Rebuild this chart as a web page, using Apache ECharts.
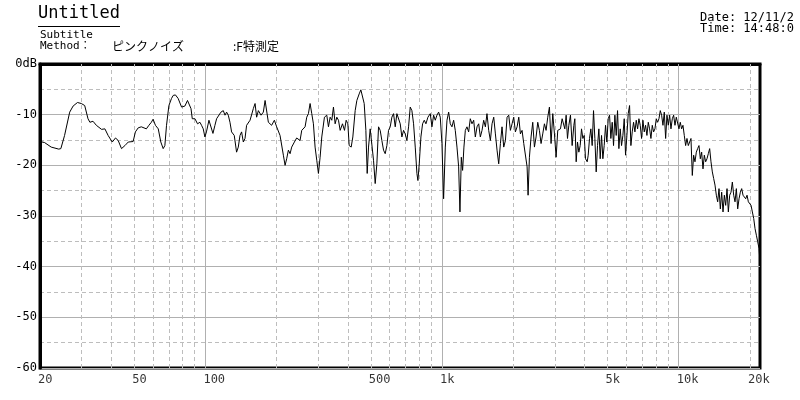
<!DOCTYPE html>
<html>
<head>
<meta charset="utf-8">
<script src="https://cdn.jsdelivr.net/npm/echarts@6/dist/echarts.min.js"></script>
<style>html,body{margin:0;padding:0;background:#fff}#c{width:800px;height:400px}</style>
</head>
<body>
<div id="c"></div>
<script>
// ---- data ----
const freqLow = [20,20.9,22.3,24.0,24.5,25.4,26.7,27.6,28.8,29.9,30.9,31.9,32.5,33.5,34.6,36.4,37.6,38.8,40.4,41.7,42.8,44.2,45.7,47.2,49.5,50.6,52.0,53.6,56.3,57.7,59.1,60.1,61.5,63.2,64.8,66.3,67.4,68.5,70.1,71.9,73.1,74.7,76.7,79.3,81.9,84.0,85.2,86.9,88.0,90.3,92.6,94.8,96.3,97.9,99.5,101,103.5,105.5,107.6,109.7,111.5,113.3,116.3,119.0,121.0,122.9,124.9,127.0,129.0,132.4,135.4,137.7,140.0,142.2,144.6,147.0,149.3,154.4,159.4,162.1,164.6,167.4,171.8,175.7,178.7,181.5,184.5,190.5,195.6,200,206.7,213.5,217.1,220.5,224.2,227.9,231.5,237.7,243.0];
const dbLow = [-15.3,-15.5,-16.4,-16.8,-16.7,-14.1,-9.5,-8.3,-7.6,-7.8,-8.2,-10.8,-11.5,-11.3,-12.1,-12.9,-12.8,-14.1,-15.4,-14.6,-15.1,-16.7,-16.1,-15.4,-15.3,-13.4,-12.6,-12.4,-12.8,-12.1,-11.5,-10.9,-12.1,-12.8,-15.4,-16.7,-16.1,-12.1,-8.2,-6.8,-6.2,-6.1,-6.8,-8.5,-8.3,-7.2,-7.2,-8.8,-10.8,-10.8,-11.8,-11.5,-12.1,-12.8,-14.4,-13.4,-11.1,-10.8,-13.7,-12.1,-10.8,-11.1,-9.5,-9.2,-10.1,-9.5,-10.1,-11.5,-13.4,-14.1,-17.4,-16.4,-14.1,-13.4,-15.4,-14.7,-12.1,-11.1,-8.8,-7.8,-10.5,-9.2,-10.1,-9.5,-7.2,-7.5,-11.5,-12.1,-11.1,-12.4,-14.1,-18.0,-20.0,-18.7,-17.0,-17.7,-16.4,-15.4,-14.6];

const freqMid = [247,251.1,255.3,259.4,263.7,268.0,272.4,276.9,281.4,286.0,290.7,295.5,300.3,305.2,310.2,318.4,325.7,331.1,336.5,342.0,347.6,353.3,359.1,365.0,371.0,379.5,387.0,393.3,399.8,405.0,413.0,419.7,429.4,436.4,446.4,453.7,461.1,468.7,476.4,482.6,488.9,496.9,505.0,513.3,521.7,530.2,538.9,547.7,556.7,565.8,575.0,584.5,594.0,603.8,613.6,623.7,633.9,644.2,654.8,665.5,676.4,687.5,698.7,710.2,721.8,733.6,745.6,757.8,770.2,782.9,790.5,800.8,814.0,827.3,840.9,854.6,871.5,891.5,906.1,921.0,936.0,951.4,967.0,982.6,998.7,1015,1032,1049,1066,1083,1101,1119,1137,1156,1175,1190,1206,1221,1237,1254,1274,1295,1316,1338,1360,1382,1405,1428,1451,1475,1499,1524,1548,1574,1600,1626,1653,1680,1707,1735,1764,1792,1822,1852,1882,1913,1944,1976,2008,2041,2075,2109,2143,2178,2214,2250,2287,2309,2339,2377,2416,2456,2496,2537,2578,2620,2663,2707,2751,2796,2842,2888,2936,2984,3033,3082];
const dbMid = [-14.4,-15.1,-13.1,-13.4,-12.4,-10.5,-9.8,-7.8,-9.8,-11.8,-16.4,-19.0,-21.6,-18.4,-14.4,-10.5,-10.1,-12.4,-10.5,-11.1,-8.5,-11.8,-10.5,-11.1,-13.1,-11.8,-13.1,-11.1,-11.8,-16.1,-16.4,-14.4,-9.2,-7.2,-5.9,-5.1,-5.2,-7.8,-13.1,-21.6,-16.4,-12.8,-13.1,-19.0,-23.6,-19.7,-12.4,-13.1,-15.1,-17.0,-17.7,-16.1,-13.1,-12.4,-10.5,-9.8,-12.4,-9.8,-10.1,-11.8,-14.4,-13.1,-13.8,-15.1,-12.4,-8.5,-9.2,-11.8,-16.4,-21.6,-23.0,-19.7,-14.4,-11.8,-11.1,-11.8,-10.5,-9.8,-12.4,-10.1,-11.1,-10.1,-9.5,-10.5,-15.7,-26.6,-16.4,-11.1,-9.5,-11.8,-12.4,-11.1,-13.1,-16.4,-20.3,-29.2,-18.4,-21.0,-16.4,-13.1,-12.4,-13.4,-10.8,-11.8,-11.1,-14.4,-12.4,-11.8,-14.4,-13.1,-11.1,-12.4,-9.8,-13.1,-15.1,-11.8,-10.5,-13.8,-17.0,-19.7,-15.7,-12.4,-16.4,-15.1,-10.5,-10.1,-13.1,-11.8,-10.5,-13.4,-12.4,-10.5,-13.8,-13.1,-15.7,-15.4,-20.3,-25.9,-18.4,-14.4,-11.5,-16.4,-14.4,-11.5,-13.1,-15.7,-13.8,-11.8,-13.1,-10.5,-8.5,-15.7,-9.8,-13.8,-18.4,-13.1];

const freqHigh = [3112,3164,3216,3269,3301,3344,3388,3432,3488,3545,3604,3639,3687,3735,3784,3834,3884,3934,3986,4038,4104,4144,4198,4253,4308,4365,4422,4480,4538,4598,4658,4719,4780,4842,4906,4970,5035,5101,5167,5235,5303,5373,5443,5514,5586,5659,5733,5808,5884,5961,6039,6118,6198,6279,6361,6444,6529,6614,6701,6788,6877,6967,7058,7150,7244,7339,7435,7532,7630,7730,7831,7934,8037,8143,8249,8357,8466,8577,8689,8803,8918,9035,9153,9272,9394,9516,9641,9767,9893,10022,10153,10286,10420,10556,10694,10834,10976,11119,11265,11412,11561,11712,11866,12021,12178,12337,12498,12662,12827,12995,13165,13337,13512,13688,13867,14049,14232,14418,14607,14798,14991,15187,15386,15587,15790,15997,16206,16418,16632,16850,17070,17293,17519,17748,17980,18215,18453,18694,18939,19186,19437,19691,19948,20209,20473,20740,21011,21286,21564,21846,22050];
const dbHigh = [-13.4,-12.8,-10.8,-10.5,-12.8,-10.1,-14.7,-12.1,-10.1,-16.1,-12.1,-10.8,-19.3,-15.4,-17.4,-16.1,-12.8,-14.7,-14.1,-18.7,-19.3,-18.0,-14.7,-12.8,-16.1,-9.2,-14.7,-21.3,-16.1,-12.8,-18.7,-14.1,-18.7,-16.1,-12.1,-15.4,-10.8,-10.1,-14.7,-11.5,-16.1,-10.1,-14.1,-9.2,-16.7,-12.8,-16.1,-14.1,-10.8,-18.0,-14.1,-9.8,-8.2,-16.1,-13.4,-11.5,-13.4,-11.1,-12.8,-10.8,-12.1,-14.7,-11.1,-13.4,-12.1,-14.1,-11.5,-12.8,-14.7,-12.1,-13.4,-12.8,-10.8,-11.5,-10.8,-9.2,-10.1,-12.1,-9.5,-14.7,-10.1,-12.1,-10.1,-12.8,-10.8,-10.1,-12.1,-10.5,-10.8,-12.8,-11.5,-12.8,-12.1,-14.1,-16.1,-14.7,-16.1,-15.4,-14.7,-22.0,-18.0,-19.3,-17.4,-16.7,-16.1,-18.7,-17.4,-20.7,-18.0,-19.3,-18.7,-17.7,-16.7,-19.3,-21.3,-22.6,-23.9,-25.9,-27.2,-24.6,-28.6,-25.3,-29.2,-25.9,-27.9,-24.6,-29.2,-25.9,-25.3,-23.3,-25.9,-27.2,-24.6,-28.6,-26.6,-25.3,-24.6,-25.9,-25.6,-26.6,-25.9,-27.2,-27.2,-27.9,-29.2,-30.5,-32.5,-33.8,-35.1,-36.4,-39.1];

const xTickFreqs = [20,50,100,500,1000,5000,10000,20000];
const xTickLabels = ['20','50','100','500','1k','5k','10k','20k'];
const majorGridFreqs = [100,1000,10000];
const minorGridFreqs = [30,40,50,60,70,80,90,200,300,400,500,600,700,800,900,2000,3000,4000,5000,6000,7000,8000,9000,20000];

const titleText = 'Untitled';
const subtitleText = 'Subtitle';
const methodParts = ['Method：', 'ピンクノイズ', ':F特測定'];
const dateText = 'Date: 12/11/2';
const timeText = 'Time: 14:48:0';

// ---- build ----
function pairs(f, d) {
  const n = Math.min(f.length, d.length), out = [];
  for (let i = 0; i < n; i++) out.push([f[i], d[i]]);
  return out;
}
const curve = pairs(freqLow, dbLow).concat(pairs(freqMid, dbMid), pairs(freqHigh, dbHigh));

const MONO = '"DejaVu Sans Mono", "Noto Sans CJK JP", monospace';
const gridLines = minorGridFreqs.map(v => ({xAxis: v, lineStyle: {type: [4, 3], color: '#bdbdbd', width: 1}}))
  .concat(majorGridFreqs.map(v => ({xAxis: v, lineStyle: {type: 'solid', color: '#b0b0b0', width: 1}})));

const chart = echarts.init(document.getElementById('c'), null, {renderer: 'canvas'});
chart.setOption({
  animation: false,
  backgroundColor: '#fff',
  grid: {left: 40, right: 40, top: 64, bottom: 32, show: true, borderColor: '#000', borderWidth: 3, backgroundColor: 'transparent'},
  xAxis: {
    type: 'log', logBase: 10, min: 20, max: 22050,
    axisLine: {show: true, lineStyle: {color: '#000', width: 3}},
    axisTick: {show: false}, axisLabel: {show: false},
    splitLine: {show: false}, minorSplitLine: {show: false}
  },
  yAxis: {
    type: 'value', min: -60, max: 0, interval: 10,
    axisLine: {show: true, lineStyle: {color: '#000', width: 3}},
    axisTick: {show: false},
    axisLabel: {color: '#000', fontFamily: MONO, fontSize: 12, margin: 3,
      formatter: v => v === 0 ? '0dB' : String(v)},
    splitLine: {show: true, lineStyle: {color: '#b0b0b0', width: 1}},
    minorTick: {show: false, splitNumber: 2},
    minorSplitLine: {show: true, lineStyle: {color: '#bdbdbd', width: 1, type: [4, 3]}}
  },
  series: [
    {
      type: 'scatter', z: 1, silent: true, clip: false,
      symbolSize: 1, itemStyle: {color: 'rgba(0,0,0,0)'},
      data: xTickFreqs.map((f, i) => ({value: [f, -60], name: xTickLabels[i]})),
      label: {show: true, position: 'bottom', distance: 5, align: 'left', offset: [-2, 0],
        formatter: p => p.name, color: '#000', fontFamily: MONO, fontSize: 12},
      markLine: {silent: true, symbol: ['none', 'none'], label: {show: false}, animation: false, data: gridLines}
    },
    {
      type: 'line', z: 5, data: curve, showSymbol: false, symbol: 'none',
      lineStyle: {color: '#000', width: 1}, clip: true
    }
  ],
  graphic: [
    {type: 'text', left: 38, top: 5, style: {text: titleText, font: '17px ' + MONO, fill: '#000'}},
    {type: 'line', shape: {x1: 38, y1: 26.5, x2: 120, y2: 26.5}, style: {stroke: '#000', lineWidth: 1}},
    {type: 'text', left: 40, top: 30, style: {text: subtitleText, font: '11px ' + MONO, fill: '#000'}},
    {type: 'text', left: 40, top: 41, style: {text: methodParts[0], font: '11px ' + MONO, fill: '#000'}},
    {type: 'text', left: 112, top: 40, style: {text: methodParts[1], font: '12px "Noto Sans CJK JP"', fill: '#000'}},
    {type: 'text', left: 233, top: 40, style: {text: methodParts[2], font: '12px "Noto Sans CJK JP"', fill: '#000'}},
    {type: 'text', left: 700, top: 12, style: {text: dateText, font: '12px ' + MONO, fill: '#000'}},
    {type: 'text', left: 700, top: 23, style: {text: timeText, font: '12px ' + MONO, fill: '#000'}}
  ]
});
</script>
</body>
</html>
